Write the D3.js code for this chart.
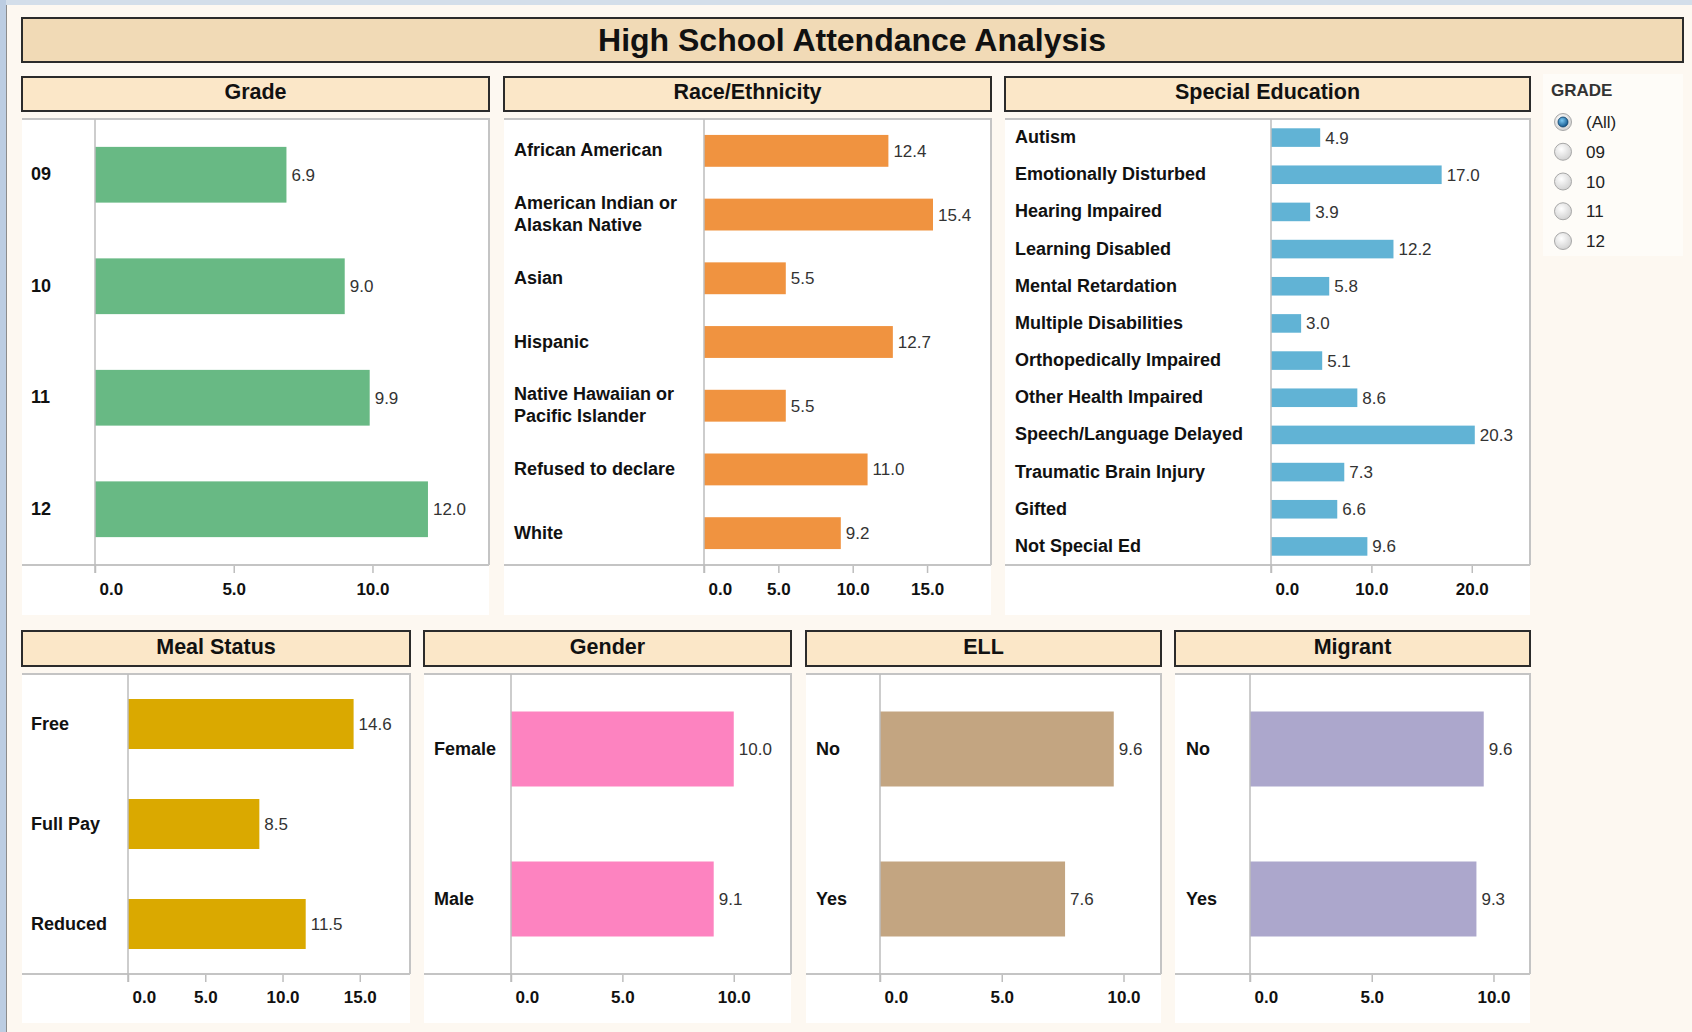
<!DOCTYPE html>
<html>
<head>
<meta charset="utf-8">
<script src="https://cdn.jsdelivr.net/npm/d3@7"></script>
<style>
    body { margin: 0; background: #fdf8f1; }
    svg { display: block; font-family: "Liberation Sans", Arial, sans-serif; }
</style>
</head>
<body>
<div id="dash"></div>
<script>
// Data
const gradeCats = ['09', '10', '11', '12'];
const gradeVals = [6.9, 9.0, 9.9, 12.0];

const raceCats = ['African American', 'American Indian or\nAlaskan Native', 'Asian', 'Hispanic',
    'Native Hawaiian or\nPacific Islander', 'Refused to declare', 'White'];
const raceVals = [12.4, 15.4, 5.5, 12.7, 5.5, 11.0, 9.2];

const specCats = ['Autism', 'Emotionally Disturbed', 'Hearing Impaired', 'Learning Disabled',
    'Mental Retardation', 'Multiple Disabilities', 'Orthopedically Impaired', 'Other Health Impaired',
    'Speech/Language Delayed', 'Traumatic Brain Injury', 'Gifted', 'Not Special Ed'];
const specVals = [4.9, 17.0, 3.9, 12.2, 5.8, 3.0, 5.1, 8.6, 20.3, 7.3, 6.6, 9.6];

const mealCats = ['Free', 'Full Pay', 'Reduced'];
const mealVals = [14.6, 8.5, 11.5];

const genderCats = ['Female', 'Male'];
const genderVals = [10.0, 9.1];

const ellCats = ['No', 'Yes'];
const ellVals = [9.6, 7.6];

const migrantCats = ['No', 'Yes'];
const migrantVals = [9.6, 9.3];

const ticks5x3 = [0, 5, 10];
const ticks5x4 = [0, 5, 10, 15];
const ticks10x3 = [0, 10, 20];

const gradeOptions = ['(All)', '09', '10', '11', '12'];

const W = 1692, H = 1032;
const svg = d3.select('#dash').append('svg').attr('width', W).attr('height', H);

// defs for radio buttons
const defs = svg.append('defs');
const rg = defs.append('radialGradient').attr('id', 'radioOff').attr('cx', '40%').attr('cy', '35%').attr('r', '70%');
rg.append('stop').attr('offset', '0%').attr('stop-color', '#ffffff');
rg.append('stop').attr('offset', '100%').attr('stop-color', '#cfcfcf');
const rb = defs.append('radialGradient').attr('id', 'radioOn').attr('cx', '40%').attr('cy', '35%').attr('r', '70%');
rb.append('stop').attr('offset', '0%').attr('stop-color', '#7cc8f2');
rb.append('stop').attr('offset', '100%').attr('stop-color', '#0b4f86');

// page background + window frame bits
svg.append('rect').attr('width', W).attr('height', H).attr('fill', '#fdf8f1');
svg.append('rect').attr('x', 0).attr('y', 0).attr('width', W).attr('height', 5).attr('fill', '#d3deea');
svg.append('rect').attr('x', 0).attr('y', 0).attr('width', 6).attr('height', H).attr('fill', '#bccde2');
svg.append('line').attr('x1', 6.5).attr('x2', 6.5).attr('y1', 5).attr('y2', H)
    .attr('stroke', '#8c8c8c').attr('stroke-width', 1);

// title
svg.append('rect').attr('x', 22).attr('y', 18).attr('width', 1661).attr('height', 44)
    .attr('fill', '#f1dab6').attr('stroke', '#2b2b2b').attr('stroke-width', 2);
svg.append('text').attr('x', 852).attr('y', 51).attr('text-anchor', 'middle')
    .attr('font-size', 32).attr('font-weight', 'bold').attr('fill', '#111')
    .text('High School Attendance Analysis');

const panels = [
    { title: 'Grade', cats: gradeCats, vals: gradeVals, color: '#68b984', ticks: ticks5x3, max: 14.2,
      x0: 22, x1: 489, axisX: 95, labelX: 31, row: 0 },
    { title: 'Race/Ethnicity', cats: raceCats, vals: raceVals, color: '#f09340', ticks: ticks5x4, max: 19.3,
      x0: 504, x1: 991, axisX: 704, labelX: 514, row: 0 },
    { title: 'Special Education', cats: specCats, vals: specVals, color: '#61b3d5', ticks: ticks10x3, max: 25.8,
      x0: 1005, x1: 1530, axisX: 1271, labelX: 1015, row: 0 },
    { title: 'Meal Status', cats: mealCats, vals: mealVals, color: '#daa900', ticks: ticks5x4, max: 18.25,
      x0: 22, x1: 410, axisX: 128, labelX: 31, row: 1 },
    { title: 'Gender', cats: genderCats, vals: genderVals, color: '#fd83c0', ticks: ticks5x3, max: 12.57,
      x0: 424, x1: 791, axisX: 511, labelX: 434, row: 1 },
    { title: 'ELL', cats: ellCats, vals: ellVals, color: '#c3a581', ticks: ticks5x3, max: 11.54,
      x0: 806, x1: 1161, axisX: 880, labelX: 816, row: 1 },
    { title: 'Migrant', cats: migrantCats, vals: migrantVals, color: '#aca7cc', ticks: ticks5x3, max: 11.5,
      x0: 1175, x1: 1530, axisX: 1250, labelX: 1186, row: 1 }
];

const rows = [
    { headTop: 77, headBot: 111, plotTop: 119, axisY: 565, whiteBot: 615, tickPad: 10 },
    { headTop: 631, headBot: 666, plotTop: 674, axisY: 974, whiteBot: 1023, tickPad: 9 }
];

const fmt = d3.format('.1f');

function drawPanel(p) {
    const r = rows[p.row];
    const g = svg.append('g');

    // header box
    g.append('rect').attr('x', p.x0).attr('y', r.headTop)
        .attr('width', p.x1 - p.x0).attr('height', r.headBot - r.headTop)
        .attr('fill', '#fbe7c8').attr('stroke', '#2b2b2b').attr('stroke-width', 2);
    g.append('text').attr('x', (p.x0 + p.x1) / 2).attr('y', (r.headTop + r.headBot) / 2 + 5)
        .attr('text-anchor', 'middle').attr('font-size', 21.5).attr('font-weight', 'bold')
        .attr('fill', '#111').text(p.title);

    // white plot area
    g.append('rect').attr('x', p.x0).attr('y', r.plotTop)
        .attr('width', p.x1 - p.x0).attr('height', r.whiteBot - r.plotTop).attr('fill', '#ffffff');
    g.append('path')
        .attr('d', `M${p.x0},${r.plotTop}H${p.x1}V${r.axisY}`)
        .attr('fill', 'none').attr('stroke', '#c4c4c4').attr('stroke-width', 2);

    const x = d3.scaleLinear().domain([0, p.max]).range([p.axisX, p.x1]);
    const y = d3.scaleBand().domain(p.cats).range([r.plotTop, r.axisY])
        .paddingInner(0.5).paddingOuter(0.25);

    const data = p.cats.map((c, i) => ({ cat: c, val: p.vals[i] }));

    // bars
    g.selectAll('rect.bar').data(data).join('rect')
        .attr('class', 'bar')
        .attr('x', x(0))
        .attr('y', d => y(d.cat))
        .attr('width', d => x(d.val) - x(0))
        .attr('height', y.bandwidth())
        .attr('fill', p.color);

    // value labels
    g.selectAll('text.val').data(data).join('text')
        .attr('class', 'val')
        .attr('x', d => x(d.val) + 5)
        .attr('y', d => y(d.cat) + y.bandwidth() / 2 + 6)
        .attr('font-size', 17).attr('fill', '#333')
        .text(d => fmt(d.val));

    // category labels
    const lab = g.selectAll('text.cat').data(data).join('text')
        .attr('class', 'cat')
        .attr('x', p.labelX)
        .attr('font-size', 18).attr('font-weight', 'bold').attr('fill', '#111');
    lab.each(function (d) {
        const lines = d.cat.split('\n');
        const cy = y(d.cat) + y.bandwidth() / 2;
        const lh = 21.5;
        const start = cy - (lines.length - 1) * lh / 2 + 5.5;
        d3.select(this).selectAll('tspan').data(lines).join('tspan')
            .attr('x', p.labelX)
            .attr('y', (l, i) => start + i * lh)
            .text(l => l);
    });

    // x axis
    const ax = g.append('g').attr('transform', `translate(0,${r.axisY})`)
        .call(d3.axisBottom(x).tickValues(p.ticks).tickFormat(fmt).tickSize(8).tickPadding(r.tickPad));
    ax.select('.domain').remove();
    ax.selectAll('.tick line').attr('stroke', '#bdbdbd').attr('stroke-width', 1.5);
    ax.selectAll('.tick text')
        .attr('font-size', 17).attr('font-weight', 'bold').attr('fill', '#111')
        .attr('font-family', '"Liberation Sans", Arial, sans-serif');
    ax.selectAll('.tick').filter(d => d === 0).select('text')
        .attr('text-anchor', 'start').attr('x', 4);

    // axis lines
    g.append('line').attr('x1', p.x0).attr('x2', p.x1).attr('y1', r.axisY).attr('y2', r.axisY)
        .attr('stroke', '#c4c4c4').attr('stroke-width', 2);
    g.append('line').attr('x1', p.axisX).attr('x2', p.axisX).attr('y1', r.plotTop).attr('y2', r.axisY + 8)
        .attr('stroke', '#bdbdbd').attr('stroke-width', 1.5);
}

panels.forEach(drawPanel);

// GRADE filter legend
const leg = svg.append('g');
leg.append('rect').attr('x', 1543).attr('y', 74).attr('width', 140).attr('height', 182).attr('fill', '#fefcf8');
leg.append('text').attr('x', 1551).attr('y', 96).attr('font-size', 17).attr('font-weight', 'bold')
    .attr('fill', '#333').text('GRADE');
const ly = d3.scalePoint().domain(gradeOptions).range([122, 241]);
const item = leg.selectAll('g.opt').data(gradeOptions).join('g').attr('class', 'opt')
    .attr('transform', d => `translate(1563,${ly(d)})`);
item.append('circle').attr('r', 8.5).attr('fill', 'url(#radioOff)').attr('stroke', '#a8a8a8').attr('stroke-width', 1);
item.filter((d, i) => i === 0).append('circle').attr('r', 5)
    .attr('fill', 'url(#radioOn)').attr('stroke', '#0d3d66').attr('stroke-width', 0.8);
item.append('text').attr('x', 23).attr('y', 6).attr('font-size', 17).attr('fill', '#222').text(d => d);
</script>
</body>
</html>
